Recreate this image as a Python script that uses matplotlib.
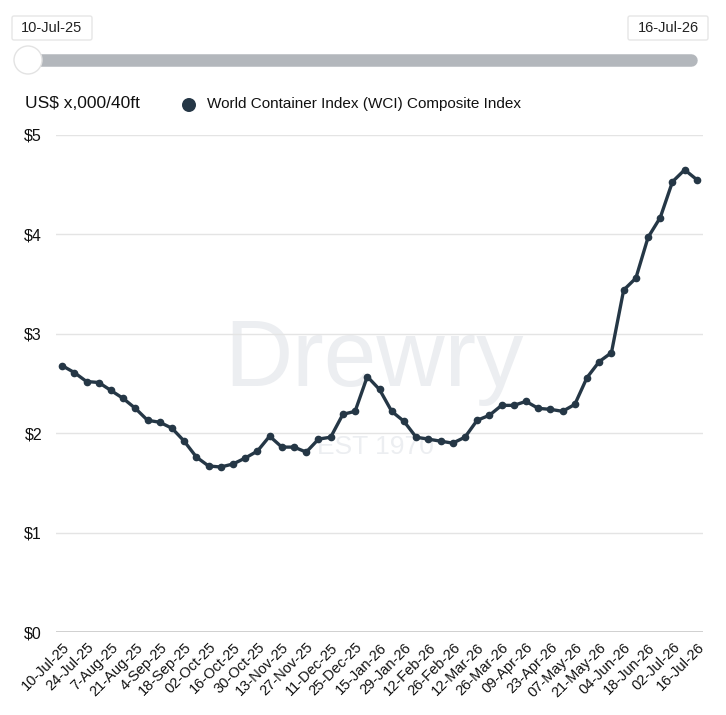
import numpy as np
import matplotlib
matplotlib.use("Agg")
import matplotlib.pyplot as plt
from matplotlib.patches import Circle, FancyBboxPatch

plt.rcParams['font.family'] = ['Liberation Sans', 'DejaVu Sans']

# weekly WCI composite, US$ x,000 per 40ft
wci = [2.68, 2.61, 2.52, 2.51, 2.43, 2.35, 2.25, 2.13, 2.11, 2.05,
       1.92, 1.76, 1.67, 1.66, 1.69, 1.75, 1.82, 1.97, 1.86, 1.86,
       1.81, 1.94, 1.96, 2.19, 2.22, 2.57, 2.44, 2.22, 2.12, 1.96,
       1.94, 1.92, 1.90, 1.96, 2.13, 2.18, 2.28, 2.28, 2.32, 2.25,
       2.24, 2.22, 2.29, 2.56, 2.72, 2.81, 3.44, 3.56, 3.97, 4.17,
       4.53, 4.65, 4.55]

tick_labels = ["10-Jul-25", "24-Jul-25", "7-Aug-25", "21-Aug-25", "4-Sep-25",
               "18-Sep-25", "02-Oct-25", "16-Oct-25", "30-Oct-25", "13-Nov-25",
               "27-Nov-25", "11-Dec-25", "25-Dec-25", "15-Jan-26", "29-Jan-26",
               "12-Feb-26", "26-Feb-26", "12-Mar-26", "26-Mar-26", "09-Apr-26",
               "23-Apr-26", "07-May-26", "21-May-26", "04-Jun-26", "18-Jun-26",
               "02-Jul-26", "16-Jul-26"]

y_ticks = [0, 1, 2, 3, 4, 5]
y_tick_labels = ["$0", "$1", "$2", "$3", "$4", "$5"]

W, H = 726, 715
line_col = "#253746"

fig = plt.figure(figsize=(W / 100, H / 100), dpi=100)

# overlay in pixel coordinates for the slider / header / watermark
ov = fig.add_axes([0, 0, 1, 1])
ov.set_xlim(0, W)
ov.set_ylim(H, 0)
ov.axis("off")

# watermark
ov.text(374, 386, "Drewry", fontsize=68, color="#eceef1", ha="center",
        va="baseline", zorder=0)
ov.text(375, 447, "EST 1970", fontsize=19, color="#eceef1", ha="center",
        va="center", zorder=0)

# slider
ov.plot([28, 691], [60, 60], color="#b3b7bc", lw=9, solid_capstyle="round")
ov.add_patch(Circle((28, 60), 14, facecolor="white", edgecolor="#e3e3e3", lw=1, zorder=5))
for x0, x1, lab in [(12, 92, "10-Jul-25"), (628, 708, "16-Jul-26")]:
    ov.add_patch(FancyBboxPatch((x0, 16), x1 - x0, 24, boxstyle="round,pad=0,rounding_size=2",
                                facecolor="white", edgecolor="#e6e6e6", lw=1))
    ov.text((x0 + x1) / 2, 28.5, lab, fontsize=10.5, color="#222222", ha="center", va="center")

# header / legend
ov.text(25, 104, "US$ x,000/40ft", fontsize=12.5, color="#111111", ha="left", va="center")
ov.add_patch(Circle((189, 105), 7, facecolor=line_col, edgecolor="none"))
ov.text(207, 104, "World Container Index (WCI) Composite Index", fontsize=11,
        color="#111111", ha="left", va="center")

# main chart
left = 56 / W
right = 703 / W
bottom = (H - 632) / H
top = (H - 135) / H
ax = fig.add_axes([left, bottom, right - left, top - bottom])
ax.patch.set_alpha(0)

x = np.arange(len(wci))
ax.plot(x, wci, color=line_col, lw=2.4, marker="o", markersize=4.5,
        solid_joinstyle="round", clip_on=False, zorder=3)

ax.set_xlim(-0.5, len(wci) - 0.5)
ax.set_ylim(0, 5)
ax.set_yticks(y_ticks)
ax.set_yticklabels(y_tick_labels)
for t in y_ticks:
    ax.axhline(t, color="#cccccc" if t == 0 else "#e4e4e4",
               lw=2 if t == 0 else 1, zorder=1)

ax.set_xticks(x[::2])
ax.set_xticklabels(tick_labels, rotation=45, ha="right", rotation_mode="anchor",
                   fontsize=10.5, color="#111111")
ax.tick_params(axis="x", length=0, pad=6)
ax.tick_params(axis="y", length=0, pad=10, labelsize=11.5, labelcolor="#111111")
for s in ax.spines.values():
    s.set_visible(False)

fig.savefig("out.png", dpi=100)
